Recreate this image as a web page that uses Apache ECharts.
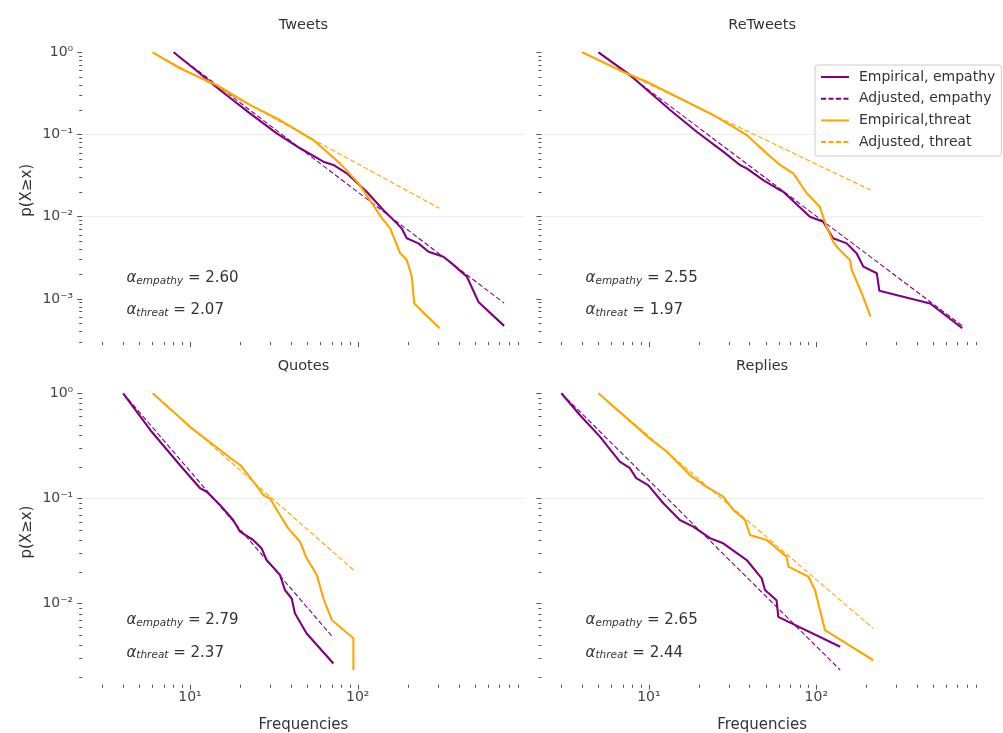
<!DOCTYPE html>
<html>
<head>
<meta charset="utf-8">
<script src="https://cdn.jsdelivr.net/npm/echarts@6/dist/echarts.min.js"></script>
<style>
  html, body { margin: 0; padding: 0; background: #ffffff; }
  #chart { width: 1003px; height: 733px; }
</style>
</head>
<body>
<div id="chart"></div>
<script>
// ---- panels -------------------------------------------------------------
const panelTitles = ['Tweets', 'ReTweets', 'Quotes', 'Replies'];
const alphaEmpathy = ['2.60', '2.55', '2.79', '2.65'];
const alphaThreat = ['2.07', '1.97', '2.37', '2.44'];
const seriesNames = ['Empirical, empathy', 'Adjusted, empathy', 'Empirical,threat', 'Adjusted, threat'];

// ---- ticks ----------------------------------------------------------------
const xTickValues = [10, 100];
const xTickLabels = ['10¹', '10²'];
const yTickValues = [0.001, 0.01, 0.1, 1];
const yTickLabels = ['10⁻³', '10⁻²', '10⁻¹', '10⁰'];

// ---- complementary cumulative distributions, [frequency, p(X≥x)] ---------
const tweetsEmpathy = [[8, 1.0], [10.5, 0.64], [15.1, 0.348], [22.8, 0.181], [32.9, 0.103], [45.3, 0.068],
  [62.4, 0.0467], [71.6, 0.0426], [86, 0.0337], [113, 0.0201], [142, 0.0121], [171, 0.0083], [183, 0.0072],
  [196, 0.00546], [230, 0.00474], [264, 0.00375], [324, 0.00326], [363, 0.00271], [447, 0.00186],
  [524, 0.00092], [745, 0.00047]];
const tweetsEmpathyFit = [[8, 1.0], [745, 0.00089]];
const tweetsThreat = [[6, 1.0], [8.7, 0.64], [14.4, 0.40], [22.8, 0.229], [34.4, 0.150], [54.3, 0.0857],
  [78.4, 0.0446], [101, 0.0255], [118, 0.016], [139, 0.0096], [156, 0.0072], [171, 0.0045], [179, 0.00359],
  [196, 0.00297], [210, 0.00186], [217, 0.00088], [307, 0.00044]];
const tweetsThreatFit = [[6, 1.0], [307, 0.01265]];

const retweetsEmpathy = [[5, 1.0], [7.7, 0.53], [13.4, 0.199], [19.3, 0.108], [27.8, 0.0618], [35, 0.0426],
  [38.4, 0.0388], [48.2, 0.0279], [60.7, 0.0211], [63.5, 0.0201], [91.6, 0.010], [110, 0.0087], [126, 0.00546],
  [152, 0.00474], [174, 0.0036], [191, 0.00247], [230, 0.00205], [238, 0.00126], [479, 0.00088], [745, 0.00044]];
const retweetsEmpathyFit = [[5, 1.0], [745, 0.00047]];
const retweetsThreat = [[4, 1.0], [7, 0.58], [9.7, 0.439], [15.3, 0.276], [24.2, 0.173], [31.9, 0.124],
  [38.4, 0.0986], [50.6, 0.059], [60.7, 0.0426], [72.9, 0.0337], [87.7, 0.0193], [105, 0.0132], [115, 0.0076],
  [126, 0.00497], [135, 0.00413], [159, 0.00297], [163, 0.00225], [187, 0.00117], [211, 0.00061]];
const retweetsThreatFit = [[4, 1.0], [211, 0.0211]];

const quotesEmpathy = [[4, 1.0], [5.8, 0.448], [8.7, 0.208], [11.5, 0.125], [12.6, 0.116], [15.1, 0.0867],
  [18.1, 0.0625], [19.9, 0.0483], [23.8, 0.0403], [26.7, 0.0337], [28.6, 0.026], [34.4, 0.0188], [36.8, 0.0135],
  [40.4, 0.0112], [42.2, 0.0081], [49.6, 0.0052], [71.6, 0.0027]];
const quotesEmpathyFit = [[4, 1.0], [70.6, 0.00485]];
const quotesThreat = [[6, 1.0], [10, 0.48], [18.1, 0.232], [19.9, 0.208], [21.8, 0.174], [26.1, 0.12],
  [27.3, 0.108], [30, 0.1], [34.4, 0.0697], [38.5, 0.052], [45.3, 0.0388], [49.6, 0.027], [57, 0.0188],
  [62.4, 0.0112], [70, 0.007], [94.2, 0.0047], [94.2, 0.00234]];
const quotesThreatFit = [[6, 1.0], [94.2, 0.0209]];

const repliesEmpathy = [[3, 1.0], [3.87, 0.622], [5.1, 0.387], [6.7, 0.224], [7.7, 0.194], [8.4, 0.156],
  [9.9, 0.134], [12.2, 0.09], [15.3, 0.0625], [18.4, 0.054], [23.2, 0.0419], [27.8, 0.0375], [38.4, 0.026],
  [47.2, 0.0174], [49.4, 0.0135], [57.9, 0.0108], [59.3, 0.0075], [139, 0.0039]];
const repliesEmpathyFit = [[3, 1.0], [139, 0.00234]];
const repliesThreat = [[5, 1.0], [10.1, 0.373], [12.8, 0.279], [14, 0.241], [17.6, 0.167], [22.1, 0.129],
  [27.8, 0.104], [31.9, 0.0778], [37.5, 0.0625], [40.2, 0.045], [50.6, 0.0403], [66.5, 0.028], [68.1, 0.0225],
  [89.6, 0.0181], [98.2, 0.0135], [112.7, 0.0056], [219, 0.0029]];
const repliesThreatFit = [[5, 1.0], [219, 0.00583]];

const panelCurves = [
  [tweetsEmpathy, tweetsEmpathyFit, tweetsThreat, tweetsThreatFit],
  [retweetsEmpathy, retweetsEmpathyFit, retweetsThreat, retweetsThreatFit],
  [quotesEmpathy, quotesEmpathyFit, quotesThreat, quotesThreatFit],
  [repliesEmpathy, repliesEmpathyFit, repliesThreat, repliesThreatFit]
];

// ---- layout & style ---------------------------------------------------
const FONT = 'DejaVu Sans';
const TEXT = '#333333';
const TICK = '#555555';
const GRID_LINE = '#ececec';
const PURPLE = '#800080';
const ORANGE = '#ffa500';

const X_RANGE = [2.28, 988];
const Y_RANGE_TOP = [2.985e-4, 1.472];
const Y_RANGE_BOTTOM = [1.698e-3, 1.355];

const grids = [
  { left: 82.2, top: 38.5, width: 442.5, height: 303.6 },
  { left: 541.4, top: 38.5, width: 441.4, height: 303.6 },
  { left: 82.2, top: 379.4, width: 442.5, height: 305.3 },
  { left: 541.4, top: 379.4, width: 441.4, height: 305.3 }
];

const lineStyles = [
  { color: PURPLE, width: 2.1, type: 'solid' },
  { color: PURPLE, width: 1.1, type: [5, 2.5] },
  { color: ORANGE, width: 2.1, type: 'solid' },
  { color: ORANGE, width: 1.1, type: [5, 2.5] }
];

function tickLabel(values, labels) {
  return function (v) {
    const idx = values.findIndex(t => Math.abs(Math.log10(t) - Math.log10(v)) < 1e-6);
    return idx < 0 ? '' : labels[idx];
  };
}

const xAxes = grids.map((g, i) => {
  const bottomRow = i >= 2;
  return {
    type: 'log', logBase: 10, gridIndex: i, min: X_RANGE[0], max: X_RANGE[1],
    axisLine: { show: false },
    axisTick: { show: true, inside: false, length: 5, customValues: xTickValues,
      lineStyle: { color: TICK, width: 1 } },
    minorTick: { show: true, splitNumber: 9, length: 3, lineStyle: { color: TICK, width: 1 } },
    axisLabel: { show: bottomRow, customValues: xTickValues, formatter: tickLabel(xTickValues, xTickLabels),
      margin: 6, color: '#444444', fontFamily: FONT, fontSize: 14 },
    splitLine: { show: true, showMinLine: false, showMaxLine: false, lineStyle: { color: GRID_LINE, width: 1 } },
    minorSplitLine: { show: false },
    name: bottomRow ? 'Frequencies' : '', nameLocation: 'middle', nameGap: 33,
    nameTextStyle: { color: TEXT, fontFamily: FONT, fontSize: 15 }
  };
});

const yAxes = grids.map((g, i) => {
  const leftCol = i % 2 === 0;
  const range = i < 2 ? Y_RANGE_TOP : Y_RANGE_BOTTOM;
  return {
    type: 'log', logBase: 10, gridIndex: i, min: range[0], max: range[1],
    axisLine: { show: false },
    axisTick: { show: true, inside: false, length: 5, customValues: yTickValues,
      lineStyle: { color: TICK, width: 1 } },
    minorTick: { show: true, splitNumber: 9, length: 3, lineStyle: { color: TICK, width: 1 } },
    axisLabel: { show: leftCol, customValues: yTickValues, formatter: tickLabel(yTickValues, yTickLabels),
      margin: 9, color: '#444444', fontFamily: FONT, fontSize: 14 },
    splitLine: { show: true, showMinLine: false, showMaxLine: false, lineStyle: { color: GRID_LINE, width: 1 } },
    minorSplitLine: { show: false },
    name: leftCol ? 'p(X≥x)' : '', nameLocation: 'middle', nameGap: 48, nameRotate: 90,
    nameTextStyle: { color: TEXT, fontFamily: FONT, fontSize: 15 }
  };
});

const series = [];
panelCurves.forEach((curves, i) => {
  curves.forEach((data, k) => {
    series.push({
      type: 'line', name: seriesNames[k], xAxisIndex: i, yAxisIndex: i,
      data: data, showSymbol: false, symbol: 'none', silent: true, animation: false,
      lineStyle: lineStyles[k], itemStyle: { color: lineStyles[k].color },
      z: k % 2 === 0 ? 3 : 2
    });
  });
});

// panel titles and exponent annotations
const graphics = [];
const richAlpha = {
  a: { fontFamily: FONT, fontSize: 15, fontStyle: 'italic', fill: TEXT },
  s: { fontFamily: FONT, fontSize: 10.5, fontStyle: 'italic', fill: TEXT, padding: [6, 0, 0, 0] },
  v: { fontFamily: FONT, fontSize: 15, fill: TEXT }
};
grids.forEach((g, i) => {
  graphics.push({
    type: 'text', x: g.left + g.width / 2, y: g.top - 13, silent: true,
    style: { text: panelTitles[i], fill: TEXT, font: '14.5px "' + FONT + '"', align: 'center', verticalAlign: 'middle' }
  });
  const ax = g.left + 0.1 * g.width;
  graphics.push({
    type: 'text', x: ax, y: g.top + g.height * (1 - 0.21), silent: true,
    style: { text: '{a|α}{s|empathy}{v| = ' + alphaEmpathy[i] + '}', rich: richAlpha, fill: TEXT,
      font: '15px "' + FONT + '"', align: 'left', verticalAlign: 'middle' }
  });
  graphics.push({
    type: 'text', x: ax, y: g.top + g.height * (1 - 0.105), silent: true,
    style: { text: '{a|α}{s|threat}{v| = ' + alphaThreat[i] + '}', rich: richAlpha, fill: TEXT,
      font: '15px "' + FONT + '"', align: 'left', verticalAlign: 'middle' }
  });
});

const chart = echarts.init(document.getElementById('chart'), null, { renderer: 'canvas' });
chart.setOption({
  backgroundColor: '#ffffff',
  animation: false,
  textStyle: { fontFamily: FONT },
  grid: grids.map(g => Object.assign({ outerBoundsMode: 'none', containLabel: false }, g)),
  xAxis: xAxes,
  yAxis: yAxes,
  legend: {
    data: seriesNames, orient: 'vertical', left: 815, top: 65,
    itemWidth: 28, itemHeight: 14, itemGap: 7.7,
    padding: [5, 6, 7, 5],
    itemStyle: { opacity: 0 },
    backgroundColor: '#ffffff', borderColor: '#cccccc', borderWidth: 1, borderRadius: 3,
    textStyle: { color: TEXT, fontFamily: FONT, fontSize: 14, padding: [0, 0, 0, 5] },
    selectedMode: false
  },
  graphic: graphics,
  series: series
});
</script>
</body>
</html>
